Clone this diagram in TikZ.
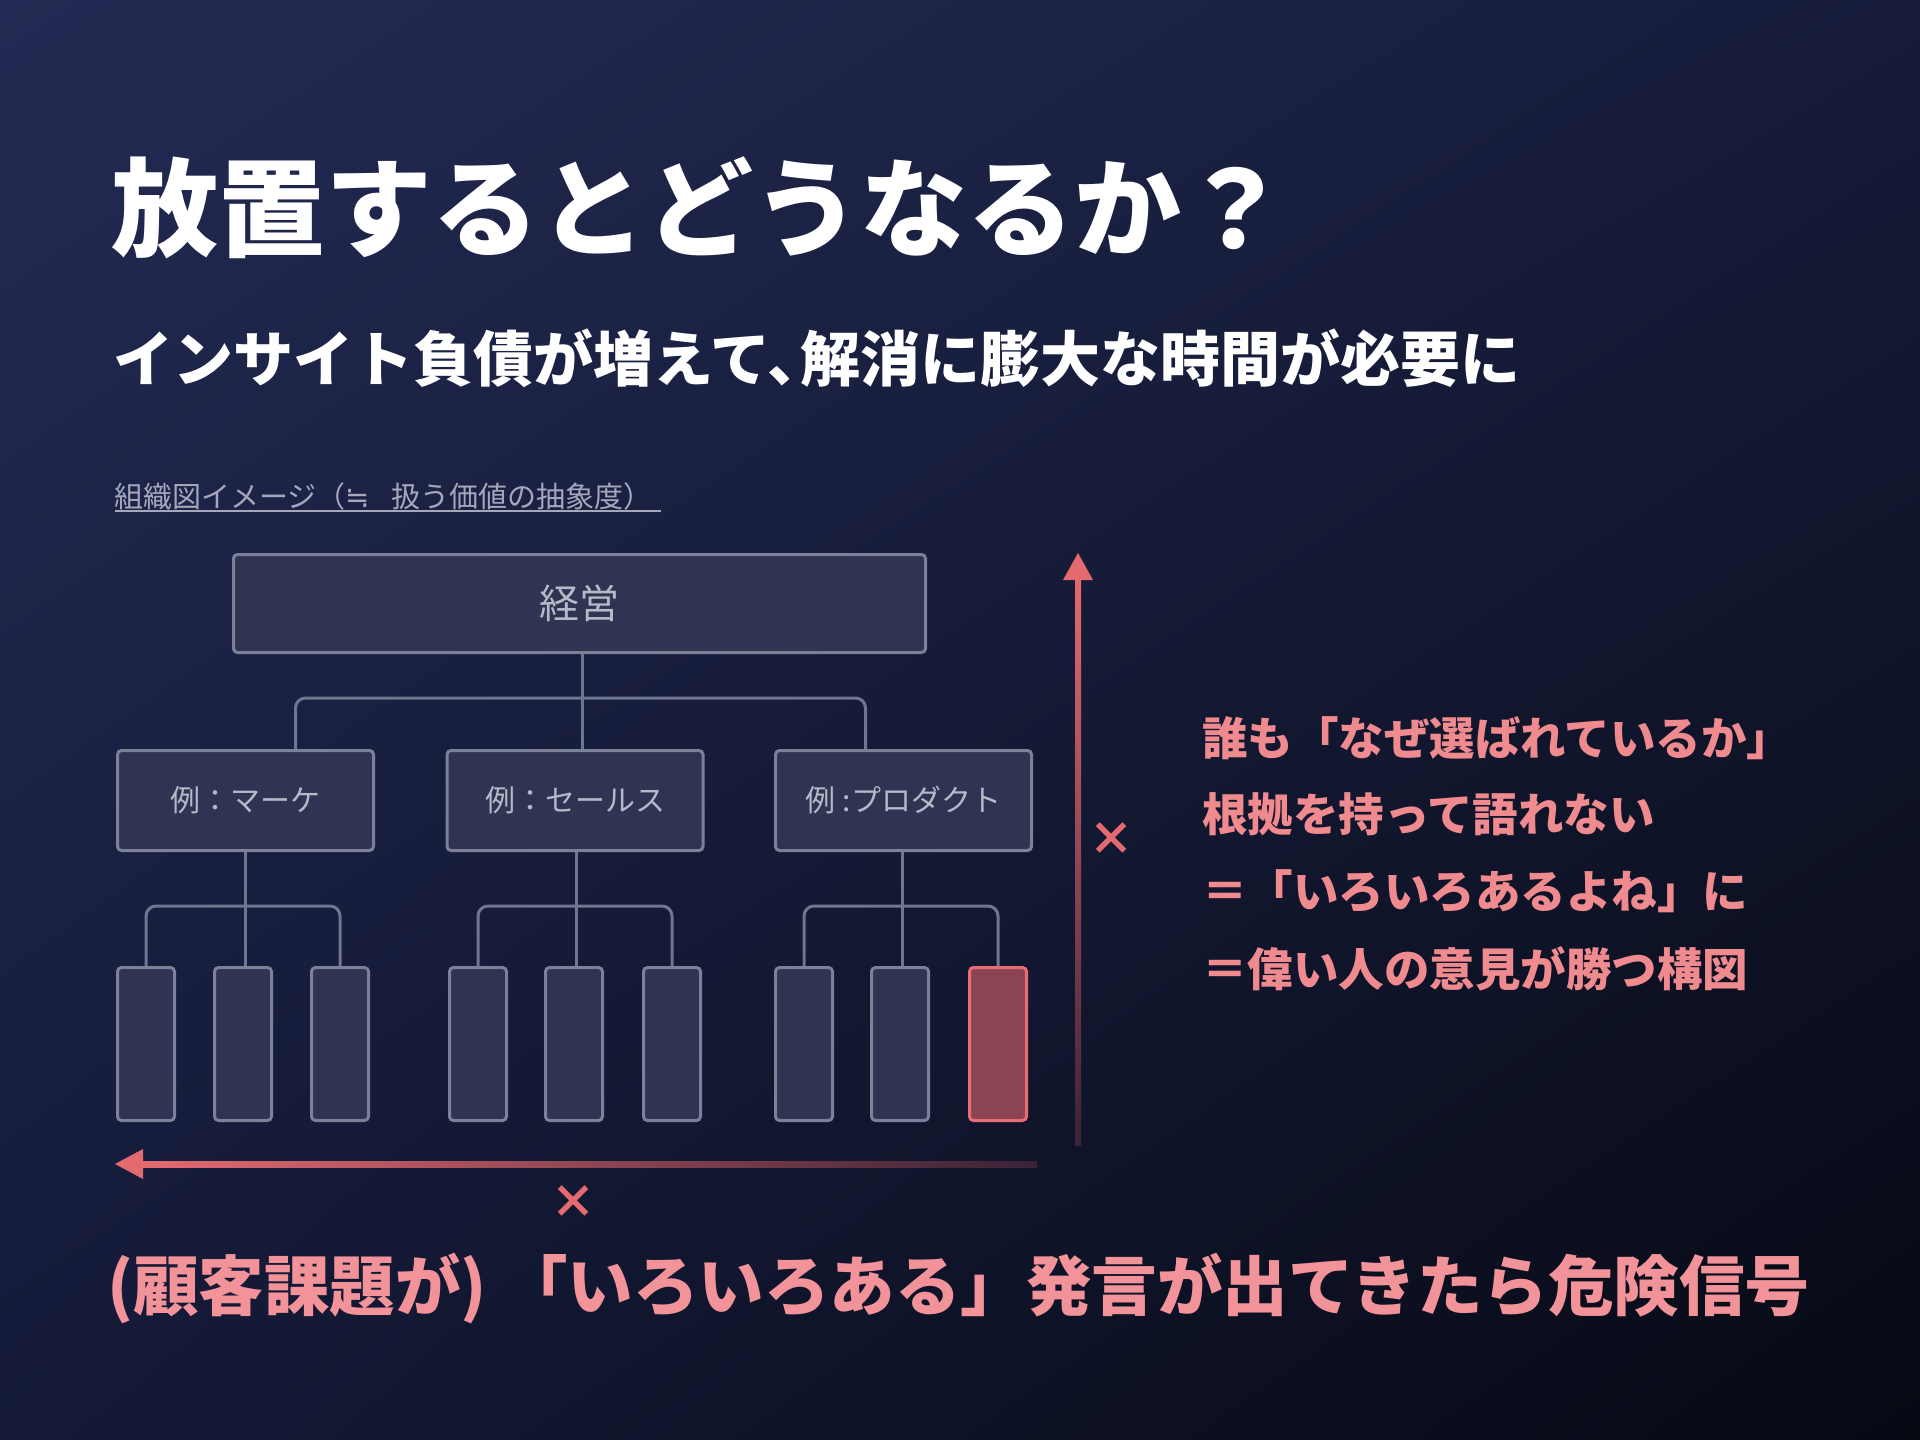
\documentclass[tikz,border=0pt]{standalone}
\usepackage{fontspec}
\setmainfont{Noto Sans CJK JP}
\newfontfamily\djv{DejaVu Sans}
\usetikzlibrary{shadings}
\definecolor{bgUL}{HTML}{232B54}
\definecolor{bgUR}{HTML}{161C3A}
\definecolor{bgLL}{HTML}{141A38}
\definecolor{bgLR}{HTML}{070913}
\definecolor{boxfill}{HTML}{2E3452}
\definecolor{boxline}{HTML}{7B8196}
\definecolor{connline}{HTML}{6F768F}
\definecolor{boxtext}{HTML}{B5B9C8}
\definecolor{captxt}{HTML}{A3A8BB}
\definecolor{redfill}{HTML}{8A4452}
\definecolor{redline}{HTML}{E86D74}
\definecolor{coral}{HTML}{E56A70}
\definecolor{coraldark}{HTML}{3A2236}
\definecolor{pinktxt}{HTML}{EF8A8F}
\definecolor{pinkbot}{HTML}{F2939A}
\begin{document}
\begin{tikzpicture}[x=1pt,y=-1pt,
  orgbox/.style={draw=boxline, fill=boxfill, line width=3pt, rounded corners=4pt, inner sep=0pt, text=boxtext},
  leafbox/.style={orgbox, minimum width=57pt, minimum height=153pt},
  midbox/.style={orgbox, minimum width=256pt, minimum height=100pt, font=\fontsize{30}{36}\selectfont},
  conn/.style={draw=connline, line width=3pt, rounded corners=10pt},
  txt/.style={inner sep=0pt, anchor=west},
  redtxt/.style={txt, text=pinktxt, font=\bfseries\fontsize{45.5}{54}\selectfont},
  xmark/.style={text=coral, inner sep=0pt, font=\bfseries\fontsize{46}{54}\selectfont},
]
\shade[upper left=bgUL, upper right=bgUR, lower left=bgLL, lower right=bgLR] (0,0) rectangle (1920,1440);
\useasboundingbox (0,0) rectangle (1920,1440);

% titles
\node[txt, text=white, font=\bfseries\fontsize{107}{120}\selectfont] (title) at (111,208) {放置するとどうなるか？};
\node[txt, text=white, font=\bfseries\fontsize{60}{70}\selectfont] (sub) at (113,358) {インサイト負債が増えて、\kern-0.45em 解消に膨大な時間が必要に};
\node[txt, text=captxt, font=\fontsize{29}{34}\selectfont] (cap) at (114,496) {組織図イメージ（{\djv ≒}\hspace{22pt}扱う価値の抽象度）};
\draw[captxt, line width=1.5pt] (115,511) -- (661,511);

% org chart
\node[orgbox, minimum width=692pt, minimum height=98pt, font=\fontsize{40}{48}\selectfont] (keiei) at (579.5,603.5) {経営};
\node[midbox] (l2a) at (245.5,800.5) {例：マーケ};
\node[midbox] (l2b) at (575,800.5) {例：セールス};
\node[midbox] (l2c) at (903.5,800.5) {例 :プロダクト};

\node[leafbox] (la1) at (146,1044) {};
\node[leafbox] (la2) at (243,1044) {};
\node[leafbox] (la3) at (340,1044) {};
\node[leafbox] (lb1) at (478,1044) {};
\node[leafbox] (lb2) at (574,1044) {};
\node[leafbox] (lb3) at (672,1044) {};
\node[leafbox] (lc1) at (804,1044) {};
\node[leafbox] (lc2) at (900,1044) {};
\node[leafbox, draw=redline, fill=redfill] (lc3) at (998,1044) {};

\coordinate (j1) at (582,698);
\draw[conn] (keiei.south -| j1) -- (l2b.north -| j1);
\draw[conn] ([xshift=50pt]l2a.north) |- (j1) -| ([xshift=-38pt]l2c.north);

\coordinate (ja) at (245,906);
\coordinate (jb) at (576,906);
\coordinate (jc) at (902,906);
\draw[conn] (l2a.south -| ja) -- (la2.north -| ja);
\draw[conn] (la1.north) |- (ja) -| (la3.north);
\draw[conn] (l2b.south -| jb) -- (lb2.north -| jb);
\draw[conn] (lb1.north) |- (jb) -| (lb3.north);
\draw[conn] (l2c.south -| jc) -- (lc2.north -| jc);
\draw[conn] (lc1.north) |- (jc) -| (lc3.north);

% axes
\coordinate (hTail) at (1037,1164);
\coordinate (hTip) at (115,1164);
\shade[left color=coral, right color=coraldark] (140,1161) rectangle (hTail |- 0,1167);
\fill[coral] (hTip) -- ++(28,-15) -- ++(0,30) -- cycle;

\coordinate (vTail) at (1078,1145);
\coordinate (vTip) at (1078,553);
\shade[top color=coral, bottom color=coraldark] (1075,576) rectangle (1081,1145);
\fill[coral] (vTip) -- ++(-15,27) -- ++(30,0) -- cycle;

\node[xmark] (xh) at (573,1202) {×};
\node[xmark] (xv) at (1111,839) {×};

% right text
\node[redtxt] (r1) at (1202,738) {誰も「なぜ選ばれているか」};
\node[redtxt] (r2) at (1202,814) {根拠を持って語れない};
\node[redtxt] (r3) at (1202,891) {＝「いろいろあるよね」に};
\node[redtxt] (r4) at (1202,969) {＝偉い人の意見が勝つ構図};

% bottom
\node[txt, text=pinkbot, font=\bfseries\fontsize{65.5}{74}\selectfont] (bot) at (107,1288) {(顧客課題が) 「いろいろある」発言が出てきたら危険信号};
\end{tikzpicture}
\end{document}
